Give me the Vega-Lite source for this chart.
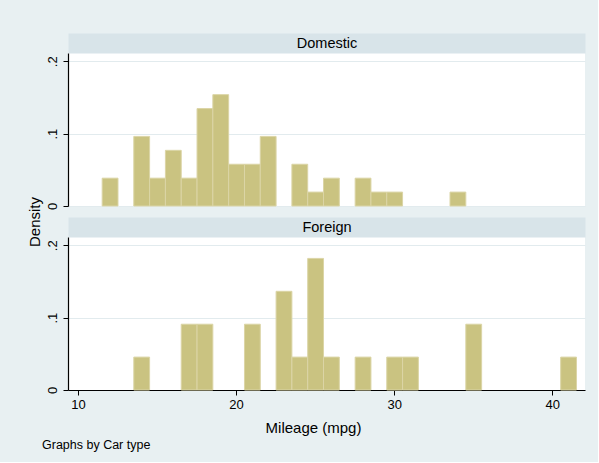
{
  "$schema": "https://vega.github.io/schema/vega-lite/v6.json",
  "background": "#E8F0F2",
  "padding": {"left": 27, "top": 35, "right": 13, "bottom": 10},
  "config": {
    "font": "Liberation Sans",
    "view": {"stroke": null},
    "axis": {"labelColor": "black", "titleColor": "black", "domainColor": "black", "tickColor": "black", "labelFont": "Liberation Sans", "titleFont": "Liberation Sans"},
    "title": {"font": "Liberation Sans"}
  },
  "datasets": {
    "cars": [
      {"type": "Domestic", "mpg": 12, "density": 0.03846},
      {"type": "Domestic", "mpg": 14, "density": 0.09615},
      {"type": "Domestic", "mpg": 15, "density": 0.03846},
      {"type": "Domestic", "mpg": 16, "density": 0.07692},
      {"type": "Domestic", "mpg": 17, "density": 0.03846},
      {"type": "Domestic", "mpg": 18, "density": 0.13462},
      {"type": "Domestic", "mpg": 19, "density": 0.15385},
      {"type": "Domestic", "mpg": 20, "density": 0.05769},
      {"type": "Domestic", "mpg": 21, "density": 0.05769},
      {"type": "Domestic", "mpg": 22, "density": 0.09615},
      {"type": "Domestic", "mpg": 24, "density": 0.05769},
      {"type": "Domestic", "mpg": 25, "density": 0.01923},
      {"type": "Domestic", "mpg": 26, "density": 0.03846},
      {"type": "Domestic", "mpg": 28, "density": 0.03846},
      {"type": "Domestic", "mpg": 29, "density": 0.01923},
      {"type": "Domestic", "mpg": 30, "density": 0.01923},
      {"type": "Domestic", "mpg": 34, "density": 0.01923},
      {"type": "Foreign", "mpg": 14, "density": 0.04545},
      {"type": "Foreign", "mpg": 17, "density": 0.09091},
      {"type": "Foreign", "mpg": 18, "density": 0.09091},
      {"type": "Foreign", "mpg": 21, "density": 0.09091},
      {"type": "Foreign", "mpg": 23, "density": 0.13636},
      {"type": "Foreign", "mpg": 24, "density": 0.04545},
      {"type": "Foreign", "mpg": 25, "density": 0.18182},
      {"type": "Foreign", "mpg": 26, "density": 0.04545},
      {"type": "Foreign", "mpg": 28, "density": 0.04545},
      {"type": "Foreign", "mpg": 30, "density": 0.04545},
      {"type": "Foreign", "mpg": 31, "density": 0.04545},
      {"type": "Foreign", "mpg": 35, "density": 0.09091},
      {"type": "Foreign", "mpg": 41, "density": 0.04545}
    ]
  },
  "title": {"text": "Graphs by Car type", "orient": "bottom", "anchor": "start", "frame": "bounds", "fontSize": 12.5, "fontWeight": "normal", "color": "black", "offset": 4, "dx": 15},
  "bounds": "flush",
  "spacing": 31,
  "vconcat": [
    {
      "width": 517, "height": 153,
      "data": {"name": "cars"},
      "transform": [{"filter": "datum.type === 'Domestic'"}],
      "view": {"fill": "white", "stroke": null},
      "mark": {"type": "bar", "color": "#CAC381", "stroke": "#DBD5A6", "strokeWidth": 1, "binSpacing": 0},
      "encoding": {
        "x": {"field": "mpg", "type": "quantitative", "bin": {"step": 1, "extent": [9.5, 42.5], "nice": false}, "scale": {"domain": [9.37, 42.07], "nice": false, "zero": false},
          "axis": {"orient": "top", "offset": 10, "domainWidth": 20, "domainColor": "#D8E4E9", "ticks": false, "labels": false, "grid": false,
            "title": "Domestic", "titleFontSize": 14.5, "titleFontWeight": "normal", "titleBaseline": "middle", "titleAlign": "center", "titleX": 258.5, "titleY": 0}},
        "y": {"field": "density", "type": "quantitative", "scale": {"domain": [0, 0.2114], "nice": false},
          "axis": {"values": [0, 0.1, 0.2], "labelExpr": "datum.value < 0.001 ? '0' : substring(format(datum.value, '.1f'), 1)", "labelAngle": -90, "labelAlign": "center", "labelBaseline": "bottom", "labelFontSize": 13, "labelPadding": 4, "tickSize": 5, "domainWidth": 1.2, "grid": true, "gridColor": "#E2EBEE", "gridWidth": 1,
            "title": "Density", "titleFontSize": 15, "titleFontWeight": "normal", "titleAngle": -90, "titleAlign": "center", "titleBaseline": "middle", "titleX": -34, "titleY": 168.5}}
      }
    },
    {
      "width": 517, "height": 153,
      "data": {"name": "cars"},
      "transform": [{"filter": "datum.type === 'Foreign'"}],
      "view": {"fill": "white", "stroke": null},
      "resolve": {"axis": {"x": "independent"}},
      "layer": [
        {
          "mark": {"type": "bar", "color": "#CAC381", "stroke": "#DBD5A6", "strokeWidth": 1, "binSpacing": 0},
          "encoding": {
            "x": {"field": "mpg", "type": "quantitative", "bin": {"step": 1, "extent": [9.5, 42.5], "nice": false}, "scale": {"domain": [9.37, 42.07], "nice": false, "zero": false},
              "axis": {"orient": "bottom", "values": [10, 20, 30, 40], "format": "d", "labelFontSize": 13, "labelPadding": 3, "tickSize": 5, "domainWidth": 1.2, "grid": false, "labelFlush": false, "title": "Mileage (mpg)", "titleFontSize": 15, "titleFontWeight": "normal", "titlePadding": 9, "titleX": 245}},
            "y": {"field": "density", "type": "quantitative", "scale": {"domain": [0, 0.2114], "nice": false},
              "axis": {"values": [0, 0.1, 0.2], "labelExpr": "datum.value < 0.001 ? '0' : substring(format(datum.value, '.1f'), 1)", "labelAngle": -90, "labelAlign": "center", "labelBaseline": "bottom", "labelFontSize": 13, "labelPadding": 4, "tickSize": 5, "domainWidth": 1.2, "grid": true, "gridColor": "#E2EBEE", "gridWidth": 1, "title": null}}
          }
        },
        {
          "mark": {"type": "bar", "opacity": 0, "binSpacing": 0},
          "encoding": {
            "x": {"field": "mpg", "type": "quantitative", "bin": {"step": 1, "extent": [9.5, 42.5], "nice": false},
              "axis": {"orient": "top", "offset": 10, "domainWidth": 20, "domainColor": "#D8E4E9", "ticks": false, "labels": false, "grid": false,
                "title": "Foreign", "titleFontSize": 14.5, "titleFontWeight": "normal", "titleBaseline": "middle", "titleAlign": "center", "titleX": 258.5, "titleY": 0}},
            "y": {"field": "density", "type": "quantitative"}
          }
        }
      ]
    }
  ]
}
